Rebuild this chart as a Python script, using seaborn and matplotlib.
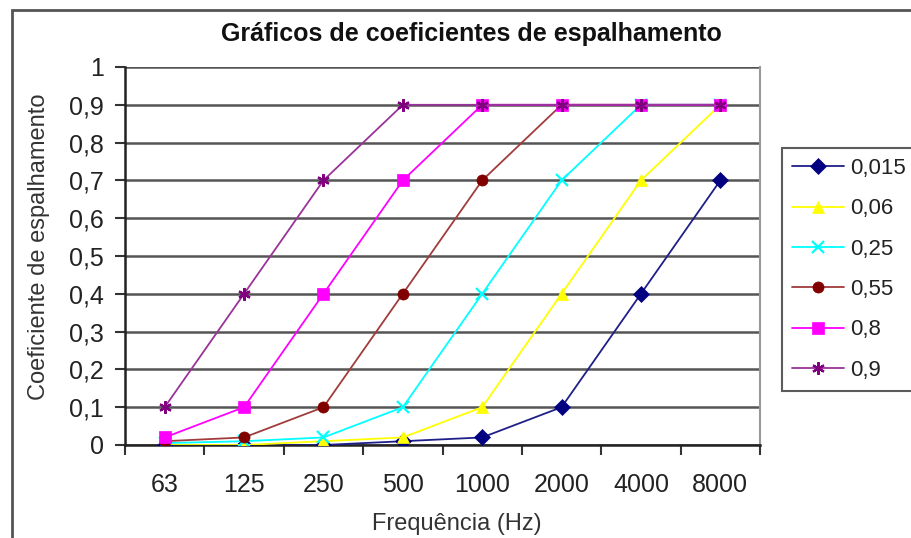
import matplotlib
matplotlib.use("Agg")
import matplotlib.pyplot as plt
from matplotlib.patches import Rectangle
from matplotlib.ticker import FixedLocator
import seaborn as sns
import pandas as pd

# Frequency bands (categorical axis) and scattering coefficient curves
frequencies = ["63", "125", "250", "500", "1000", "2000", "4000", "8000"]
series_names = ["0,015", "0,06", "0,25", "0,55", "0,8", "0,9"]
s_0015 = [0.0, 0.0, 0.0, 0.01, 0.02, 0.1, 0.4, 0.7]
s_006 = [0.0, 0.0, 0.01, 0.02, 0.1, 0.4, 0.7, 0.9]
s_025 = [0.005, 0.01, 0.02, 0.1, 0.4, 0.7, 0.9, 0.9]
s_055 = [0.01, 0.02, 0.1, 0.4, 0.7, 0.9, 0.9, 0.9]
s_08 = [0.02, 0.1, 0.4, 0.7, 0.9, 0.9, 0.9, 0.9]
s_09 = [0.1, 0.4, 0.7, 0.9, 0.9, 0.9, 0.9, 0.9]
y_ticks = [0, 0.1, 0.2, 0.3, 0.4, 0.5, 0.6, 0.7, 0.8, 0.9, 1.0]
y_tick_labels = ["0", "0,1", "0,2", "0,3", "0,4", "0,5", "0,6", "0,7", "0,8", "0,9", "1"]

values = [s_0015, s_006, s_025, s_055, s_08, s_09]
line_colors = ["#1f1f8a", "#ffff00", "#00ffff", "#a03c3c", "#ff00ff", "#993399"]
marker_colors = ["#000080", "#ffff00", "#00ffff", "#800000", "#ff00ff", "#800080"]
marker_styles = ["D", "^", "x", "o", "s", (6, 2, 0)]

rows = []
for name, vals in zip(series_names, values):
    for f, v in zip(frequencies, vals):
        rows.append({"Frequência (Hz)": f, "coef": v, "serie": name})
df = pd.DataFrame(rows)

sns.set_theme(style="white")
plt.rcParams["font.family"] = ["Liberation Sans", "DejaVu Sans"]

fig = plt.figure(figsize=(9.11, 5.38), dpi=100)
ax = fig.add_axes([125 / 911, 1 - 445 / 538, (760 - 125) / 911, (445 - 67) / 538])

for name, lc, mc, mk in zip(series_names, line_colors, marker_colors, marker_styles):
    sub = df[df["serie"] == name]
    is_line_marker = mk == "x" or isinstance(mk, tuple)
    sns.lineplot(
        data=sub, x="Frequência (Hz)", y="coef", ax=ax, sort=False,
        color=lc, linewidth=1.3, marker=mk, markersize=8 if not is_line_marker else 9,
        markerfacecolor=mc, markeredgecolor=mc,
        markeredgewidth=1.6 if is_line_marker else 0.5,
        label=name, zorder=3,
    )

ax.set_xlim(-0.5, 7.5)
ax.set_ylim(0, 1)
ax.set_yticks(y_ticks)
ax.set_yticklabels(y_tick_labels)
ax.xaxis.set_major_locator(FixedLocator(list(range(len(frequencies)))))
ax.set_xticklabels(frequencies)
ax.xaxis.set_minor_locator(FixedLocator([i - 0.5 for i in range(len(frequencies) + 1)]))
ax.tick_params(axis="x", which="major", length=0, pad=20, labelsize=18, colors="#222222")
ax.tick_params(axis="x", which="minor", length=7, width=1.5, color="#333333", bottom=True)
ax.tick_params(axis="y", length=7, width=1.5, color="#333333", left=True, pad=8,
               labelsize=18, labelcolor="#222222")

ax.yaxis.grid(True, color="#555555", linewidth=1.8)
ax.xaxis.grid(False)
ax.set_axisbelow(True)
for side in ["left", "bottom"]:
    ax.spines[side].set_color("#222222")
    ax.spines[side].set_linewidth(1.8)
ax.spines["top"].set_visible(False)
ax.spines["right"].set_color("#999999")
ax.spines["right"].set_linewidth(1.5)

ax.set_xlabel("Frequência (Hz)", fontsize=17, color="#333333", labelpad=12)
ax.xaxis.label.set_x(0.523)
ax.set_ylabel("Coeficiente de espalhamento", fontsize=17, color="#333333", labelpad=14)
ax.yaxis.label.set_y(0.524)
fig.text(471 / 911, 1 - 34 / 538, "Gráficos de coeficientes de espalhamento",
         ha="center", va="center", fontsize=18, fontweight="bold", color="#111111")

leg = ax.legend(loc="upper left", bbox_to_anchor=(782 / 911, 1 - 148 / 538),
                bbox_transform=fig.transFigure, frameon=True, fancybox=False,
                fontsize=16, labelspacing=0.87, handlelength=2.35, handletextpad=0.25,
                borderpad=0.45, borderaxespad=0)
leg.get_frame().set_edgecolor("#333333")
leg.get_frame().set_linewidth(1.5)
for t in leg.get_texts():
    t.set_color("#222222")

# Outer chart border
fig.patches.append(Rectangle((12 / 911, -0.05), 1.2, 1 - 10 / 538 + 0.05,
                             transform=fig.transFigure, fill=False,
                             edgecolor="#555555", linewidth=2.0))

fig.savefig("out.png", dpi=100)
